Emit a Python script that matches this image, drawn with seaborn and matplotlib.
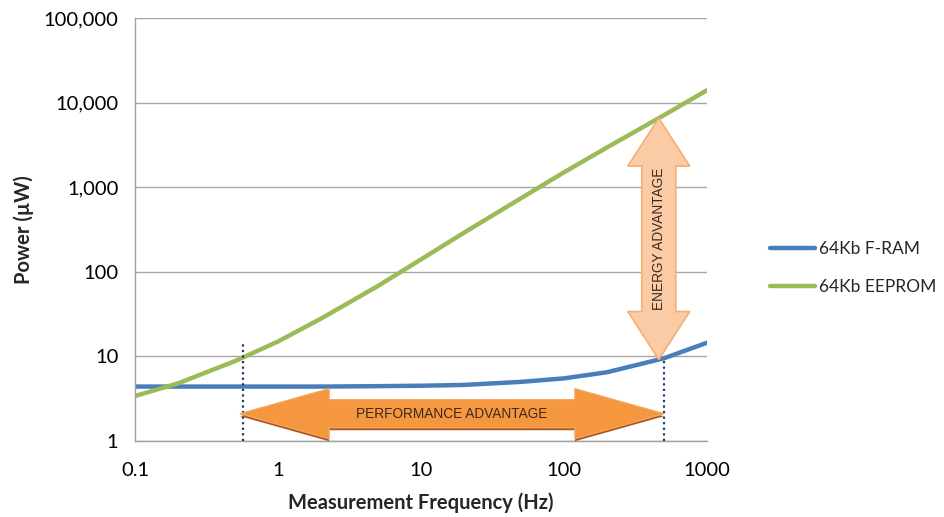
import numpy as np
import pandas as pd
import matplotlib
matplotlib.use("Agg")
import matplotlib.pyplot as plt
import seaborn as sns
from matplotlib.patches import Polygon

# --- data ---
freq = [0.1, 0.2, 0.5, 1, 2, 5, 10, 20, 50, 100, 200, 500, 1000]
fram = [4.4, 4.4, 4.4, 4.4, 4.4, 4.45, 4.5, 4.6, 5.0, 5.5, 6.5, 9.5, 14.5]
eeprom = [3.4, 4.8, 8.8, 15, 28, 68, 140, 290, 740, 1500, 2950, 7100, 14000]
series_names = ["64Kb F-RAM", "64Kb EEPROM"]
x_ticks = [0.1, 1, 10, 100, 1000]
x_labels = ["0.1", "1", "10", "100", "1000"]
y_ticks = [1, 10, 100, 1000, 10000, 100000]
y_labels = ["1", "10", "100", "1,000", "10,000", "100,000"]
perf_range = (0.57, 500)   # performance arrow ends / dotted guides
perf_level = 2.1
energy_freq = 460

df = pd.DataFrame({
    "freq": freq * 2,
    "power": fram + eeprom,
    "series": [series_names[0]] * len(freq) + [series_names[1]] * len(freq),
})

sns.set_style("white")
plt.rcParams["font.family"] = ["Lato", "DejaVu Sans"]

W, H = 945, 517
fig = plt.figure(figsize=(W / 100, H / 100), dpi=100)
ax_left, ax_right, ax_top, ax_bot = 135, 707, 18, 441
ax = fig.add_axes([ax_left / W, (H - ax_bot) / H, (ax_right - ax_left) / W, (ax_bot - ax_top) / H])
aw, ah = ax_right - ax_left, ax_bot - ax_top

sns.lineplot(data=df, x="freq", y="power", hue="series", ax=ax,
             palette=["#4A7EBB", "#9BBB59"], linewidth=3.2, legend=True,
             solid_capstyle="round")
ax.set_xscale("log")
ax.set_yscale("log")
ax.set_xlim(0.1, 1000)
ax.set_ylim(1, 100000)
ax.set_xticks(x_ticks)
ax.set_xticklabels(x_labels)
ax.set_yticks(y_ticks)
ax.set_yticklabels(y_labels)
ax.minorticks_off()
ax.tick_params(axis="both", labelsize=14.5, labelcolor="#000000", length=6, width=1,
               direction="out", color="#A0A0A0")
ax.tick_params(axis="x", pad=9)
ax.tick_params(axis="y", pad=6)
ax.yaxis.grid(True, color="#A6A6A6", linewidth=1)
ax.xaxis.grid(False)
for s in ["top", "right"]:
    ax.spines[s].set_visible(False)
for s in ["left", "bottom"]:
    ax.spines[s].set_color("#A0A0A0")
    ax.spines[s].set_linewidth(1)
ax.set_xlabel("Measurement Frequency (Hz)", fontsize=14.5, fontweight="bold", labelpad=10)
ax.set_ylabel("Power (µW)", fontsize=14.5, fontweight="bold", labelpad=7)

leg = ax.legend(title=None, frameon=False, fontsize=12.5, loc="center left",
                bbox_to_anchor=(754 / W, 1 - 268 / H), bbox_transform=fig.transFigure,
                handlelength=2.6, labelspacing=1.3, handletextpad=0.25)
for line in leg.get_lines():
    line.set_linewidth(3.2)


def to_axes(x, y):
    return ((np.log10(x) + 1) / 4, np.log10(y) / 5)


def interp_log(xs, ys, x):
    return 10 ** np.interp(np.log10(x), np.log10(xs), np.log10(ys))


# dotted guide lines
left_top = interp_log(freq, eeprom, perf_range[0]) * 1.5
right_top = interp_log(freq, fram, perf_range[1])
for f, top in zip(perf_range, [left_top, right_top]):
    ax.plot([f, f], [1, top], linestyle=(0, (1, 1.5)), color="#1F3864", linewidth=1.6, zorder=4)

# horizontal double arrow
x0, yc = to_axes(perf_range[0], perf_level)
x1, _ = to_axes(perf_range[1], perf_level)
x0 -= 3 / aw
sh, hh, hl = 14 / ah, 25 / ah, 89 / aw
pts = [(x0, yc), (x0 + hl, yc + hh), (x0 + hl, yc + sh), (x1 - hl, yc + sh), (x1 - hl, yc + hh),
       (x1, yc), (x1 - hl, yc - hh), (x1 - hl, yc - sh), (x0 + hl, yc - sh), (x0 + hl, yc - hh)]
shadow = [(px, py - 2.5 / ah) for px, py in pts]
ax.add_patch(Polygon(shadow, closed=True, transform=ax.transAxes, facecolor="#A9561A",
                     edgecolor="none", zorder=5))
ax.add_patch(Polygon(pts, closed=True, transform=ax.transAxes, facecolor="#F5973F",
                     edgecolor="#F7A55E", linewidth=1, zorder=6))
ax.text((x0 + x1) / 2, yc, "PERFORMANCE ADVANTAGE", transform=ax.transAxes, ha="center",
        va="center", fontsize=9.8, color="#3B2A1E", family=["Liberation Sans", "DejaVu Sans"], zorder=7)

# vertical double arrow
xc, y0 = to_axes(energy_freq, interp_log(freq, fram, energy_freq))
_, y1 = to_axes(energy_freq, interp_log(freq, eeprom, energy_freq))
sw, hw, vl = 17 / aw, 31 / aw, 48 / ah
vpts = [(xc, y0), (xc + hw, y0 + vl), (xc + sw, y0 + vl), (xc + sw, y1 - vl), (xc + hw, y1 - vl),
        (xc, y1), (xc - hw, y1 - vl), (xc - sw, y1 - vl), (xc - sw, y0 + vl), (xc - hw, y0 + vl)]
ax.add_patch(Polygon(vpts, closed=True, transform=ax.transAxes, facecolor="#FBCBA5",
                     edgecolor="#F5AE74", linewidth=1.2, zorder=6))
ax.text(xc, (y0 + y1) / 2, "ENERGY ADVANTAGE", transform=ax.transAxes, ha="center",
        va="center", rotation=90, fontsize=9.8, color="#3B2A1E",
        family=["Liberation Sans", "DejaVu Sans"], zorder=7)

fig.savefig("out.png", dpi=100)
